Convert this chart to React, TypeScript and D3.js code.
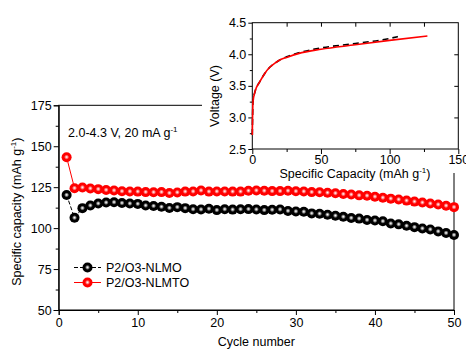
import { useEffect, useRef } from 'react';
import * as d3 from 'd3';

const cycles = d3.range(1, 51);

const nlmo = [
  120.2, 106.3, 112.2, 113.8, 115.0, 115.6, 115.8, 115.3, 115.0, 114.8,
  113.8, 113.5, 113.0, 112.3, 112.8, 112.2, 111.5, 111.4, 111.8, 111.0,
  111.5, 111.3, 111.5, 111.6, 111.4, 111.0, 111.2, 111.4, 110.5, 110.2,
  110.0, 109.0, 108.8, 108.2, 107.6, 106.9, 106.2, 105.8, 105.0, 104.6,
  104.2, 102.8, 102.3, 101.4, 100.6, 99.8, 99.2, 98.0, 97.0, 95.8,
];

const nlmto = [
  143.3, 124.4, 124.8, 124.2, 123.8, 123.3, 123.0, 122.5, 122.4, 122.3,
  122.0, 121.9, 122.0, 121.4, 121.8, 122.3, 122.4, 123.0, 122.3, 122.4,
  122.4, 122.3, 122.3, 122.8, 123.0, 122.8, 122.6, 122.6, 122.8, 122.5,
  122.4, 122.0, 121.9, 121.6, 121.3, 120.8, 120.5, 120.0, 119.8, 119.2,
  118.6, 118.0, 117.5, 116.8, 116.2, 115.6, 115.0, 114.4, 113.7, 112.8,
];

// inset charge curves (capacity mAh/g, voltage V)
const insetCapRed = [0, 0.2, 0.5, 2, 5.6, 9.2, 12.5, 16.5, 20, 25, 33.5, 50, 75, 100, 127.5];
const insetVoltRed = [2.72, 3.0, 3.25, 3.41, 3.57, 3.7, 3.79, 3.86, 3.91, 3.95, 4.01, 4.08, 4.15, 4.22, 4.29];
const insetCapBlack = [0, 0.2, 0.5, 2, 5.6, 9.2, 12.5, 16.5, 20, 25, 35, 50, 75, 100, 106];
const insetVoltBlack = [2.72, 3.0, 3.25, 3.41, 3.57, 3.7, 3.79, 3.86, 3.91, 3.96, 4.03, 4.1, 4.17, 4.25, 4.28];

const series = [
  { name: 'P2/O3-NLMO', values: nlmo, color: '#000', light: '#bbbbbb', dash: '4,2', grad: 'ballBlack' },
  { name: 'P2/O3-NLMTO', values: nlmto, color: '#f00', light: '#ffb0b0', dash: null, grad: 'ballRed' },
];

const FONT = 'Liberation Sans, Arial, sans-serif';

export default function App() {
  const svgRef = useRef<SVGSVGElement>(null);

  useEffect(() => {
    if (!svgRef.current) return;
    const width = 466;
    const height = 349;
    const svg = d3.select(svgRef.current).attr('width', width).attr('height', height);
    svg.selectAll('*').remove();

    const defs = svg.append('defs');
    series.forEach((s) => {
      const g = defs
        .append('radialGradient')
        .attr('id', s.grad)
        .attr('cx', '50%')
        .attr('cy', '50%')
        .attr('r', '50%')
        .attr('fx', '50%')
        .attr('fy', '48%');
      g.append('stop').attr('offset', '0%').attr('stop-color', '#fff');
      g.append('stop').attr('offset', '18%').attr('stop-color', s.light);
      g.append('stop').attr('offset', '50%').attr('stop-color', s.color);
      g.append('stop').attr('offset', '100%').attr('stop-color', s.color);
    });

    // main chart
    const x = d3.scaleLinear().domain([0, 50]).range([58.7, 454]);
    const y = d3.scaleLinear().domain([50, 175]).range([310, 105.3]);

    const main = svg.append('g').style('font-family', FONT).style('font-size', '12.5px');

    // frame
    main
      .append('rect')
      .attr('x', x(0))
      .attr('y', y(175))
      .attr('width', x(50) - x(0))
      .attr('height', y(50) - y(175))
      .attr('fill', 'none')
      .attr('stroke', '#000')
      .attr('stroke-width', 1);

    const xAxis = main
      .append('g')
      .attr('transform', `translate(0,${y(50)})`)
      .call(d3.axisBottom(x).tickValues([0, 10, 20, 30, 40, 50]).tickSize(5).tickPadding(3));
    main
      .append('g')
      .attr('transform', `translate(0,${y(50)})`)
      .call(d3.axisBottom(x).tickValues(d3.range(5, 50, 10)).tickSize(3).tickFormat(() => ''))
      .call((g) => g.select('.domain').remove());
    const yAxis = main
      .append('g')
      .attr('transform', `translate(${x(0)},0)`)
      .call(d3.axisLeft(y).tickValues([50, 75, 100, 125, 150, 175]).tickSize(5).tickPadding(2));
    main
      .append('g')
      .attr('transform', `translate(${x(0)},0)`)
      .call(d3.axisLeft(y).tickValues(d3.range(62.5, 175, 25)).tickSize(3).tickFormat(() => ''))
      .call((g) => g.select('.domain').remove());
    [xAxis, yAxis].forEach((a) => {
      a.selectAll('text').style('font-family', FONT).style('font-size', '12.5px').attr('fill', '#000');
    });
    main.selectAll('.tick line').attr('stroke', '#000');
    main.selectAll('.domain').attr('stroke', '#000');

    main
      .append('text')
      .attr('x', (x(0) + x(50)) / 2)
      .attr('y', 346)
      .attr('text-anchor', 'middle')
      .text('Cycle number');

    const yl = main
      .append('text')
      .attr('transform', `translate(21,${(y(50) + y(175)) / 2 + 4}) rotate(-90)`)
      .attr('text-anchor', 'middle');
    yl.append('tspan').text('Specific capacity (mAh g');
    yl.append('tspan').attr('dy', -5).style('font-size', '8px').text('-1');
    yl.append('tspan').attr('dy', 5).text(')');

    const note = main.append('text').attr('x', 68).attr('y', 136.5);
    note.append('tspan').text('2.0-4.3 V, 20 mA g');
    note.append('tspan').attr('dy', -5).style('font-size', '8px').text('-1');

    // series
    series.forEach((s) => {
      const line = d3
        .line<number>()
        .x((_, i) => x(cycles[i]))
        .y((d) => y(d));
      main
        .append('path')
        .attr('d', line(s.values))
        .attr('fill', 'none')
        .attr('stroke', s.color)
        .attr('stroke-width', 1)
        .attr('stroke-dasharray', s.dash);
      main
        .append('g')
        .selectAll('circle')
        .data(s.values)
        .join('circle')
        .attr('cx', (_, i) => x(cycles[i]))
        .attr('cy', (d) => y(d))
        .attr('r', 5)
        .attr('fill', `url(#${s.grad})`);
    });

    // legend
    series.forEach((s, i) => {
      const ly = 267.5 + i * 15;
      const lg = main.append('g');
      lg.append('line')
        .attr('x1', 74)
        .attr('x2', 101)
        .attr('y1', ly)
        .attr('y2', ly)
        .attr('stroke', s.color)
        .attr('stroke-dasharray', s.dash);
      lg.append('circle').attr('cx', 87.5).attr('cy', ly).attr('r', 5).attr('fill', `url(#${s.grad})`);
      lg.append('text').attr('x', 106).attr('y', ly + 4.5).text(s.name);
    });

    // inset
    svg.append('rect').attr('x', 202).attr('y', 0).attr('width', 264).attr('height', 173).attr('fill', '#fff');
    const ix = d3.scaleLinear().domain([0, 150]).range([252.3, 458.3]);
    const iy = d3.scaleLinear().domain([2.5, 4.5]).range([149, 22.7]);
    const inset = svg.append('g').style('font-family', FONT).style('font-size', '12.5px');

    inset
      .append('rect')
      .attr('x', ix(0))
      .attr('y', iy(4.5))
      .attr('width', ix(150) - ix(0))
      .attr('height', iy(2.5) - iy(4.5))
      .attr('fill', 'none')
      .attr('stroke', '#000');

    const ixAxis = inset
      .append('g')
      .attr('transform', `translate(0,${iy(2.5)})`)
      .call(d3.axisBottom(ix).tickValues([0, 50, 100, 150]).tickSize(5).tickPadding(1));
    inset
      .append('g')
      .attr('transform', `translate(0,${iy(2.5)})`)
      .call(d3.axisBottom(ix).tickValues([25, 75, 125]).tickSize(3).tickFormat(() => ''));
    inset
      .append('g')
      .attr('transform', `translate(0,${iy(4.5)})`)
      .call(d3.axisBottom(ix).tickValues([25, 50, 75, 100, 125]).tickSize(4).tickFormat(() => ''));
    const iyAxis = inset
      .append('g')
      .attr('transform', `translate(${ix(0)},0)`)
      .call(d3.axisLeft(iy).tickValues([2.5, 3, 3.5, 4, 4.5]).tickFormat(d3.format('.1f')).tickSize(4).tickPadding(2));
    inset
      .append('g')
      .attr('transform', `translate(${ix(0)},0)`)
      .call(d3.axisLeft(iy).tickValues([2.75, 3.25, 3.75, 4.25]).tickSize(2.5).tickFormat(() => ''));
    inset
      .append('g')
      .attr('transform', `translate(${ix(150)},0)`)
      .call(d3.axisLeft(iy).tickValues([3, 3.5, 4]).tickSize(4).tickFormat(() => ''));
    inset.selectAll('.domain').remove();
    inset.selectAll('.tick line').attr('stroke', '#000');
    [ixAxis, iyAxis].forEach((a) => {
      a.selectAll('text').style('font-family', FONT).style('font-size', '12.5px').attr('fill', '#000');
    });

    const ixl = inset.append('text').attr('x', 355).attr('y', 178).attr('text-anchor', 'middle');
    ixl.append('tspan').text('Specific Capacity (mAh g');
    ixl.append('tspan').attr('dy', -5).style('font-size', '8px').text('-1');
    ixl.append('tspan').attr('dy', 5).text(')');

    inset
      .append('text')
      .attr('transform', `translate(219,96) rotate(-90)`)
      .attr('text-anchor', 'middle')
      .text('Voltage (V)');

    const curve = d3
      .line<[number, number]>()
      .x((d) => ix(d[0]))
      .y((d) => iy(d[1]))
      .curve(d3.curveMonotoneX);
    inset
      .append('path')
      .attr('d', curve(insetCapBlack.map((c, i) => [c, insetVoltBlack[i]] as [number, number])))
      .attr('fill', 'none')
      .attr('stroke', '#000')
      .attr('stroke-width', 1.6)
      .attr('stroke-dasharray', '6,4');
    inset
      .append('path')
      .attr('d', curve(insetCapRed.map((c, i) => [c, insetVoltRed[i]] as [number, number])))
      .attr('fill', 'none')
      .attr('stroke', '#f00')
      .attr('stroke-width', 1.6);
  }, []);

  return (
    <svg
      ref={svgRef}
      style={{ position: 'absolute', left: 0, top: 0, display: 'block', background: '#fff' }}
    ></svg>
  );
}
